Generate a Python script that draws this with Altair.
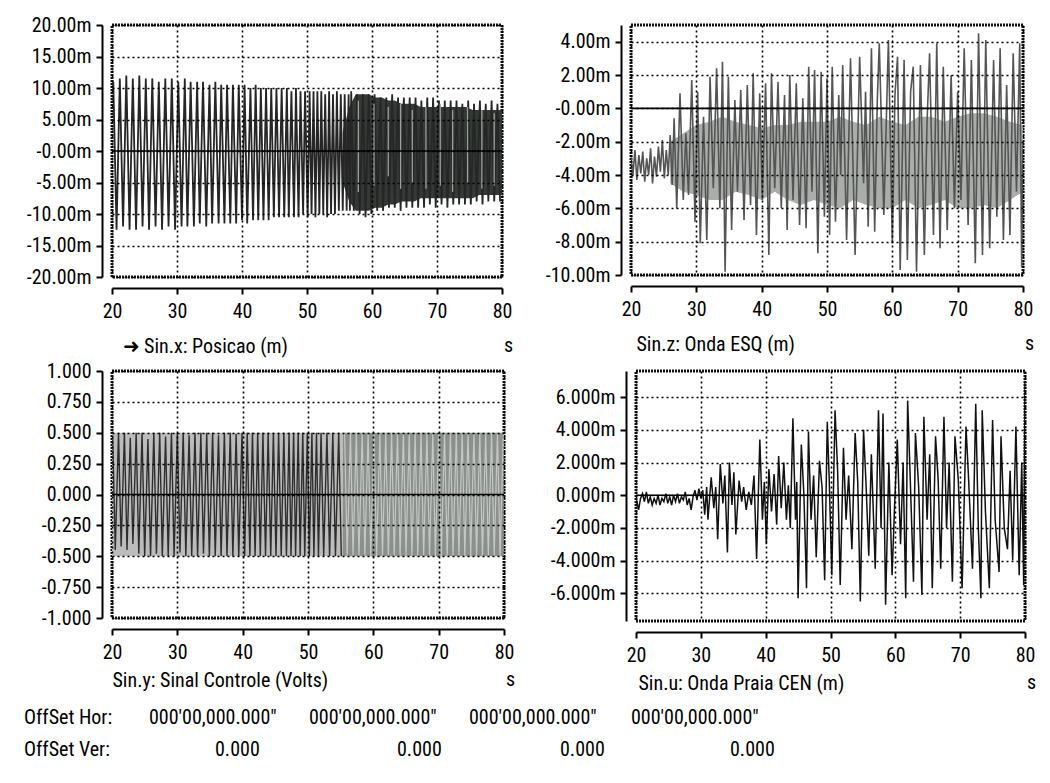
import altair as alt
import pandas as pd

FONT = "Roboto Condensed, Roboto, sans-serif"
FS = 20

# ---------------- data ----------------
# Sin.x : Posicao (m)  -- (time s, value mm) alternating extremes
sinx = [
    (20.2, 11.0), (20.7, -12.5), (21.2, 11.5), (21.7, -12.0), (22.2, 12.0), (22.7, -12.5), (23.2, 11.5), (23.7, -12.5), (24.2, 12.0), (24.7, -12.0),
    (25.2, 11.5), (25.7, -12.5), (26.2, 11.5), (26.7, -12.0), (27.2, 11.0), (27.7, -12.5), (28.2, 11.5), (28.7, -12.0), (29.2, 11.5), (29.7, -12.5),
    (30.2, 11.0), (30.7, -12.0), (31.2, 11.5), (31.6, -12.0), (32.1, 11.0), (32.6, -12.0), (33.1, 11.0), (33.5, -11.5), (34.0, 11.0), (34.5, -12.0),
    (35.0, 10.5), (35.4, -11.5), (35.9, 11.0), (36.4, -11.5), (36.8, 10.5), (37.3, -11.5), (37.7, 10.5), (38.2, -11.5), (38.6, 10.5), (39.1, -11.5),
    (39.5, 10.5), (40.0, -11.0), (40.4, 10.5), (40.8, -11.5), (41.3, 10.0), (41.7, -11.0), (42.1, 10.5), (42.5, -11.0), (42.9, 10.0), (43.3, -11.0),
    (43.7, 10.0), (44.1, -11.0), (44.5, 10.0), (44.9, -10.5), (45.3, 10.0), (45.7, -10.5), (46.1, 10.0), (46.5, -10.5), (46.9, 10.0), (47.2, -10.5),
    (47.6, 9.5), (48.0, -10.5), (48.3, 10.0), (48.7, -10.5), (49.0, 9.5), (49.4, -10.0), (49.7, 9.5), (50.1, -10.5), (50.4, 9.5), (50.7, -10.0),
    (51.0, 9.5), (51.3, -10.5), (51.6, 9.5), (51.9, -10.0), (52.2, 9.5), (52.5, -10.0), (52.8, 9.0), (53.1, -10.5), (53.4, 9.5), (53.7, -10.0),
    (54.0, 9.0), (54.3, -10.0), (54.6, 9.5), (54.9, -9.5), (55.2, 9.0), (55.5, -9.5), (55.8, 9.0), (56.1, -9.5), (56.4, 9.0), (56.6, -9.5),
    (56.8, 9.5), (57.2, -9.5), (57.7, 9.0), (58.1, -10.0), (58.6, 9.0), (59.0, -10.5), (59.5, 9.0), (59.9, -10.0), (60.4, 9.0), (60.8, -9.5),
    (61.3, 8.5), (61.7, -9.5), (62.2, 8.5), (62.6, -9.0), (63.1, 9.0), (63.5, -9.0), (64.0, 8.5), (64.4, -9.5), (64.9, 8.5), (65.3, -9.0),
    (65.8, 8.5), (66.2, -9.0), (66.7, 8.5), (67.1, -9.0), (67.6, 8.0), (68.0, -9.0), (68.5, 8.5), (68.9, -8.5), (69.4, 8.5), (69.8, -9.0),
    (70.3, 8.0), (70.7, -8.5), (71.2, 8.0), (71.6, -9.0), (72.1, 8.0), (72.5, -8.5), (73.0, 8.0), (73.4, -8.5), (73.9, 7.5), (74.3, -8.5),
    (74.8, 8.0), (75.2, -8.5), (75.7, 7.5), (76.1, -8.0), (76.6, 8.0), (77.0, -8.5), (77.5, 7.5), (77.9, -8.0), (78.4, 8.0), (78.8, -8.0),
    (79.3, 7.5), (79.7, -8.0),
]
# light streaks seen inside the dark block of Sin.x: (time, top, bottom)
sinx_streaks = [
    (57.9, 8.0, -6.5), (60.3, 7.5, -5.5), (62.5, 7.0, -4.0), (64.4, 7.5, -6.0), (66.2, 6.5, -5.0),
    (68.3, 7.0, -6.0), (70.5, 7.5, -5.5), (72.4, 6.5, -6.5), (74.7, 7.0, -5.0), (76.9, 6.5, -6.0),
    (78.8, 6.0, -5.5),
]
# dense dark block of Sin.x
sinx_band_t = [55.5, 56.5, 57.5, 58.5, 59.5, 60.5, 61.5, 62.5, 63.5, 64.5, 65.5, 66.5, 67.5, 68.5, 69.5, 70.5, 71.5, 72.5, 73.5, 74.5, 75.5, 76.5, 77.5, 78.5, 79.5, 80.0]
sinx_band_hi = [3.0, 7.0, 9.0, 9.0, 9.0, 8.5, 8.5, 8.0, 8.0, 7.5, 7.5, 7.5, 7.0, 7.0, 7.0, 7.0, 7.0, 7.0, 7.0, 7.0, 6.5, 6.5, 6.5, 6.5, 6.5, 6.5]
sinx_band_lo = [-5.0, -8.0, -9.5, -9.5, -9.5, -9.0, -9.0, -8.5, -8.5, -8.0, -8.0, -8.0, -7.5, -7.5, -7.5, -7.5, -7.5, -7.5, -7.5, -7.5, -7.5, -7.0, -7.0, -7.0, -7.0, -7.0]

# Sin.z : Onda ESQ (m)
sinz = [
    (20.0, -3.0), (20.3, -4.0), (20.6, -2.5), (20.9, -4.3), (21.2, -2.8), (21.5, -3.9), (21.8, -2.6), (22.1, -4.4), (22.4, -3.0), (22.7, -4.0),
    (23.0, -2.4), (23.3, -4.5), (23.6, -2.9), (23.9, -4.1), (24.2, -2.3), (24.5, -3.8), (24.8, -1.9), (25.1, -4.2), (25.4, -2.5), (25.7, -4.0),
    (26.0, -1.6), (26.3, -4.6), (26.6, -0.6), (27.0, -6.0), (27.5, 0.9), (28.0, -5.5), (28.4, -1.5), (28.8, -5.2), (29.3, 1.7), (29.8, -6.8),
    (30.2, 1.0), (30.6, -8.1), (31.1, -0.5), (31.6, -7.9), (32.1, 1.9), (32.6, -4.8), (33.1, 2.4), (33.6, -6.0), (34.0, 2.8), (34.4, -9.8),
    (34.9, 1.9), (35.4, -7.3), (35.9, 0.5), (36.3, -5.0), (36.8, 1.1), (37.3, -6.7), (37.8, 1.4), (38.3, -5.8), (38.7, 2.1), (39.2, -7.6),
    (39.7, 0.9), (40.1, -5.5), (40.6, 1.5), (41.1, -8.8), (41.5, 2.1), (42.0, -4.8), (42.5, 1.6), (43.0, -6.0), (43.5, 0.8), (43.9, -7.3),
    (44.3, 2.0), (44.8, -5.5), (45.3, 1.5), (45.8, -7.0), (46.3, 0.6), (46.8, -7.2), (47.2, 2.5), (47.7, -5.0), (48.1, 2.3), (48.6, -8.7),
    (49.1, 2.2), (49.6, -6.5), (50.0, 1.8), (50.4, -7.6), (50.8, 2.5), (51.3, -6.8), (51.8, 0.8), (52.1, -4.0), (52.4, 2.6), (53.0, -7.9),
    (53.6, 3.0), (54.3, -8.8), (55.0, 3.1), (55.6, -4.5), (55.9, 1.0), (56.3, -7.1), (56.8, 3.6), (57.3, -7.4), (57.7, 0.5), (58.0, 3.9),
    (58.7, -6.4), (59.4, 4.1), (60.0, -8.1), (60.4, 0.8), (60.8, 3.1), (61.2, -9.7), (61.8, 2.9), (62.3, -9.1), (62.8, 1.0), (63.2, 2.5),
    (63.7, -9.8), (64.3, 2.6), (64.9, -8.8), (65.3, -1.0), (65.7, 3.3), (66.3, -7.6), (66.8, 3.9), (67.3, -8.4), (67.8, 2.5), (68.4, -7.3),
    (69.0, 2.0), (69.5, -6.0), (70.0, 1.0), (70.5, -5.5), (71.0, 3.6), (71.6, -7.0), (72.1, 2.9), (72.7, -9.3), (73.2, 4.5), (73.8, -8.8),
    (74.3, 4.1), (74.9, -8.4), (75.5, 2.9), (76.0, -6.5), (76.5, 3.6), (77.0, -7.9), (77.5, 1.4), (78.0, -7.6), (78.5, 3.3), (79.0, -5.0),
    (79.5, 3.9), (79.8, -9.5), (80.0, -2.0),
]
sinz_band_t = [26, 28, 30, 32, 34, 36, 38, 40, 42, 44, 46, 48, 50, 52, 54, 56, 58, 60, 62, 64, 66, 68, 70, 72, 74, 76, 78, 80]
sinz_band_hi = [-2.0, -1.5, -1.0, -0.8, -0.5, -0.8, -1.0, -1.2, -1.0, -1.0, -0.8, -0.8, -0.8, -0.5, -0.8, -1.0, -0.5, -0.8, -1.0, -0.5, -0.5, -0.8, -0.5, -0.3, -0.3, -0.5, -0.8, -1.0]
sinz_band_lo = [-4.5, -5.0, -5.2, -5.5, -5.5, -5.0, -5.2, -5.5, -5.0, -5.5, -5.8, -5.5, -5.8, -6.0, -5.5, -5.8, -6.0, -6.0, -5.5, -6.0, -5.8, -5.5, -6.0, -6.0, -5.8, -6.0, -5.5, -5.0]

# Sin.y : Sinal Controle (Volts)
siny_a = [
    (20.1, 0.48), (20.5, -0.45), (21.0, 0.5), (21.4, -0.42), (21.9, 0.5), (22.3, -0.45), (22.8, 0.46), (23.2, -0.4), (23.7, 0.5), (24.1, -0.48),
    (24.6, 0.5), (25.0, -0.5), (25.5, 0.45), (25.9, -0.5), (26.4, 0.5), (26.8, -0.48), (27.3, 0.5), (27.7, -0.5), (28.2, 0.47), (28.6, -0.5),
    (29.1, 0.5), (29.5, -0.5), (30.0, 0.5), (30.4, -0.47), (30.9, 0.5), (31.3, -0.5), (31.8, 0.48), (32.2, -0.5), (32.7, 0.5), (33.1, -0.5),
    (33.6, 0.5), (34.0, -0.48), (34.5, 0.5), (34.9, -0.5), (35.4, 0.5), (35.8, -0.5), (36.3, 0.48), (36.7, -0.5), (37.2, 0.5), (37.6, -0.5),
    (38.1, 0.5), (38.5, -0.5), (39.0, 0.49), (39.4, -0.5), (39.9, 0.5), (40.3, -0.5), (40.7, 0.5), (41.1, -0.5), (41.5, 0.5), (41.9, -0.5),
    (42.3, 0.5), (42.7, -0.5), (43.1, 0.5), (43.5, -0.5), (43.9, 0.5), (44.3, -0.5), (44.7, 0.5), (45.1, -0.5), (45.5, 0.5), (45.9, -0.5),
    (46.3, 0.5), (46.7, -0.5), (47.1, 0.5), (47.4, -0.5), (47.8, 0.5), (48.1, -0.5), (48.5, 0.5), (48.8, -0.5), (49.2, 0.5), (49.5, -0.5),
    (49.9, 0.5), (50.2, -0.5), (50.6, 0.5), (50.9, -0.5), (51.3, 0.5), (51.6, -0.5), (52.0, 0.5), (52.4, -0.5), (52.9, 0.5), (53.3, -0.5),
    (53.8, 0.5), (54.2, -0.5), (54.7, 0.5), (55.1, -0.5),
]
siny_b = [
    (55.6, 0.5), (56.0, -0.5), (56.5, 0.5), (56.9, -0.5), (57.4, 0.5), (57.8, -0.5), (58.3, 0.5), (58.7, -0.5), (59.2, 0.5), (59.6, -0.5),
    (60.1, 0.5), (60.5, -0.5), (61.0, 0.5), (61.4, -0.5), (61.9, 0.5), (62.3, -0.5), (62.8, 0.5), (63.2, -0.5), (63.7, 0.5), (64.1, -0.5),
    (64.6, 0.5), (65.0, -0.5), (65.5, 0.5), (65.9, -0.5), (66.4, 0.5), (66.8, -0.5), (67.3, 0.5), (67.7, -0.5), (68.2, 0.5), (68.6, -0.5),
    (69.1, 0.5), (69.5, -0.5), (70.0, 0.5), (70.4, -0.5), (70.9, 0.5), (71.3, -0.5), (71.8, 0.5), (72.2, -0.5), (72.7, 0.5), (73.1, -0.5),
    (73.6, 0.5), (74.0, -0.5), (74.5, 0.5), (74.9, -0.5), (75.4, 0.5), (75.8, -0.5), (76.3, 0.5), (76.7, -0.5), (77.2, 0.5), (77.6, -0.5),
    (78.1, 0.5), (78.5, -0.5), (79.0, 0.5), (79.4, -0.5), (79.9, 0.5),
]
siny_band_t = [20.0, 55.3, 55.3, 80.0]
siny_band_hi = [0.5, 0.5, 0.5, 0.5]
siny_band_lo = [-0.5, -0.5, -0.5, -0.5]
siny_band_part = ["light", "light", "dark", "dark"]

# Sin.u : Onda Praia CEN (m)
sinu = [
    (20.1, -0.3), (20.4, -0.9), (20.7, -0.2), (21.0, 0.1), (21.3, -0.4), (21.6, 0.2), (21.9, -0.5), (22.2, -0.1), (22.5, -0.6), (22.8, -0.2),
    (23.1, -0.5), (23.4, 0.0), (23.7, -0.6), (24.0, -0.2), (24.3, -0.4), (24.6, 0.1), (24.9, -0.5), (25.2, -0.1), (25.5, -0.6), (25.8, 0.0),
    (26.1, -0.4), (26.4, 0.1), (26.7, -0.5), (27.0, -0.1), (27.3, -0.3), (27.6, 0.2), (27.9, -0.6), (28.2, -0.2), (28.5, -0.9), (28.8, -0.1),
    (29.1, 0.3), (29.4, -0.3), (29.7, 0.4), (30.0, -0.2), (30.3, 0.3), (30.6, -1.2), (30.9, 0.5), (31.1, -1.5), (31.6, 1.1), (32.0, -0.8),
    (32.3, 0.5), (32.6, -2.7), (33.0, 1.9), (33.4, -0.5), (33.7, 1.2), (34.1, -3.5), (34.4, 2.0), (34.8, -0.6), (35.1, 1.4), (35.4, -2.4),
    (35.9, 0.9), (36.3, -0.4), (36.6, 0.5), (37.0, -0.9), (37.4, 0.2), (37.8, -0.6), (38.2, 1.2), (38.6, -3.9), (39.1, 3.4), (39.5, -1.5),
    (39.8, 0.8), (40.1, -3.0), (40.5, 1.6), (40.9, -1.0), (41.3, 1.3), (41.7, -1.8), (42.0, 2.4), (42.4, -0.8), (42.8, 2.0), (43.2, -1.5),
    (43.5, 0.6), (43.8, -2.0), (44.2, 4.7), (44.6, -1.5), (44.8, 0.8), (45.0, -6.3), (45.5, 3.1), (45.9, 0.0), (46.3, -5.7), (46.6, 3.9),
    (47.0, -1.5), (47.4, 1.2), (47.8, -3.8), (48.3, 2.1), (48.7, 0.5), (49.1, -5.2), (49.5, 4.5), (49.8, 1.0), (50.2, -4.9), (50.7, 5.2),
    (51.1, 1.5), (51.5, -5.5), (52.0, 2.9), (52.4, -1.5), (52.8, 1.2), (53.3, -3.3), (53.8, 3.8), (54.2, 0.8), (54.6, -6.5), (55.1, 4.0),
    (55.5, 0.5), (55.9, -3.7), (56.3, 2.5), (56.9, -4.5), (57.4, 5.2), (57.8, -2.0), (58.1, 5.0), (58.5, -6.7), (59.0, 2.0), (59.5, -4.9),
    (59.9, -0.5), (60.3, 3.4), (60.8, -3.0), (61.2, 2.0), (61.6, -6.3), (61.9, 5.8), (62.3, 1.0), (62.8, -5.3), (63.1, 3.8), (63.6, 0.5),
    (64.1, -6.1), (64.4, 4.8), (64.9, -1.5), (65.3, 2.5), (65.7, -5.7), (66.2, 3.6), (66.6, 1.0), (67.0, -4.5), (67.5, 4.8), (67.9, -2.0),
    (68.3, 2.0), (68.8, -5.3), (69.2, 3.6), (69.7, 1.0), (70.3, -5.7), (70.9, 4.2), (71.3, 1.0), (71.9, -4.5), (72.4, 5.6), (72.8, -2.0),
    (73.2, -6.3), (73.4, 5.2), (73.9, -1.0), (74.5, -5.7), (75.0, 4.6), (75.4, -1.5), (76.0, -4.7), (76.3, 3.6), (76.8, -2.0), (77.3, -3.3),
    (77.7, 1.5), (78.1, -4.0), (78.6, 4.2), (79.1, -4.9), (79.5, 2.0), (79.8, -5.5), (80.0, 7.0),
]

x_ticks = [20, 30, 40, 50, 60, 70, 80]
sinx_ticks = [-20, -15, -10, -5, 0, 5, 10, 15, 20]
sinz_ticks = [-10, -8, -6, -4, -2, 0, 2, 4]
siny_ticks = [-1.0, -0.75, -0.5, -0.25, 0.0, 0.25, 0.5, 0.75, 1.0]
sinu_ticks = [-6, -4, -2, 0, 2, 4, 6]

titles = ["\u279c Sin.x: Posicao (m)", "Sin.z: Onda ESQ (m)", "Sin.y: Sinal Controle (Volts)", "Sin.u: Onda Praia CEN (m)"]
off_hor = ["000'00,000.000\"", "000'00,000.000\"", "000'00,000.000\"", "000'00,000.000\""]
off_ver = ["0.000", "0.000", "0.000", "0.000"]


# ---------------- helpers ----------------
def line_df(pairs):
    return pd.DataFrame({"t": [p[0] for p in pairs], "v": [p[1] for p in pairs]})


def band_df(ts, hi, lo):
    return pd.DataFrame({"t": ts, "hi": hi, "lo": lo})


def panel(lines, bands, ydom, yticks, label_expr, title, title_dx, title_dy, W, H, rules=()):
    sx = alt.Scale(domain=[20, 80], nice=False, zero=False)
    sy = alt.Scale(domain=ydom, nice=False, zero=False)
    common = dict(
        grid=True, gridDash=[2, 3], gridColor="black", gridWidth=1.6,
        domainColor="black", domainWidth=2, tickColor="black", tickWidth=2, tickSize=6,
        labelFont=FONT, labelFontSize=FS, labelColor="black", labelOverlap=False,
        zindex=1,
    )
    ax_x = alt.Axis(values=x_ticks, offset=11, labelPadding=7, labelFlush=False,
                    title=title, titleFont=FONT, titleFontSize=FS, titleFontWeight="normal",
                    titleColor="black", titleAnchor="start", titleAlign="left",
                    titleX=title_dx, titleY=title_dy, titleBaseline="middle", **common)
    ax_y = alt.Axis(values=yticks, offset=10, labelPadding=5, labelExpr=label_expr,
                    title=None, **common)
    layers = []
    for df, color in bands:
        layers.append(alt.Chart(df).mark_area(color=color, clip=True).encode(
            x=alt.X("t:Q", scale=sx, axis=ax_x),
            y=alt.Y("lo:Q", scale=sy, axis=ax_y),
            y2="hi:Q"))
    for df, color, w in lines:
        layers.append(alt.Chart(df).mark_line(color=color, strokeWidth=w, clip=True).encode(
            x=alt.X("t:Q", scale=sx, axis=ax_x),
            y=alt.Y("v:Q", scale=sy, axis=ax_y)))
    for df, color, w in rules:
        layers.append(alt.Chart(df).mark_rule(color=color, strokeWidth=w, clip=True).encode(
            x=alt.X("t:Q", scale=sx, axis=ax_x),
            y=alt.Y("lo:Q", scale=sy, axis=ax_y),
            y2="hi:Q"))
    zero = alt.Chart(pd.DataFrame({"v": [0.0]})).mark_rule(color="black", strokeWidth=1.6).encode(
        y=alt.Y("v:Q", scale=sy, axis=ax_y))
    s_txt = alt.Chart(pd.DataFrame({"u": ["s"]})).mark_text(
        font=FONT, fontSize=FS, align="left", baseline="middle", color="black").encode(
        text="u:N", x=alt.value(W + 2), y=alt.value(H + 11 + title_dy))
    layers += [zero, s_txt]
    return alt.layer(*layers).properties(width=W, height=H)


def lab(fmt, suffix, zero_txt):
    return ("datum.value == 0 ? '" + zero_txt + "' : replace(format(datum.value, '" + fmt +
            "'), '\u2212', '-') + '" + suffix + "'")


streak_df = pd.DataFrame({"t": [s[0] for s in sinx_streaks],
                          "hi": [s[1] for s in sinx_streaks],
                          "lo": [s[2] for s in sinx_streaks]})

p1 = panel([(line_df(sinx), "#262626", 1.8)],
           [(band_df(sinx_band_t, sinx_band_hi, sinx_band_lo), "#343936")],
           [-20, 20], sinx_ticks, lab(".2f", "m", "-0.00m"), titles[0], 10, 58, 390, 252,
           rules=[(streak_df, "#9aa09c", 1.3)])
p2 = panel([(line_df(sinz), "#555555", 1.6)],
           [(band_df(sinz_band_t, sinz_band_hi, sinz_band_lo), "#a9aeaa")],
           [-10, 5], sinz_ticks, lab(".2f", "m", "-0.00m"), titles[1], 5, 58, 392, 250)

siny_band = pd.DataFrame({"t": siny_band_t, "hi": siny_band_hi, "lo": siny_band_lo, "part": siny_band_part})
p3 = panel([(line_df(siny_a), "#2e2e2e", 1.4), (line_df(siny_b), "#c4c7c4", 1.2)],
           [(siny_band[siny_band.part == "light"], "#bcbcbc"), (siny_band[siny_band.part == "dark"], "#8b908c")],
           [-1, 1], siny_ticks, lab(".3f", "", "0.000"), titles[2], 0, 51, 392, 247)
p4 = panel([(line_df(sinu), "#111111", 1.5)], [],
           [-7.7, 7.6], sinu_ticks, lab(".3f", "m", "0.000m"), titles[3], 2, 51, 389, 250)

# footer text rows (x relative to the left plot edge)
foot = []
row1_x = [37, 197, 357, 519]
row2_x = [103, 285, 448, 618]
items = [("OffSet Hor:", -88, 20), ("OffSet Ver:", -88, 52)]
items += [(off_hor[i], row1_x[i], 20) for i in range(4)]
items += [(off_ver[i], row2_x[i], 52) for i in range(4)]
for txt, x, y in items:
    foot.append(alt.Chart(pd.DataFrame({"u": [txt]})).mark_text(
        font=FONT, fontSize=FS, align="left", baseline="middle", color="black").encode(
        text="u:N", x=alt.value(x), y=alt.value(y)))
footer = alt.layer(*foot).properties(width=700, height=62,
                                     view=alt.ViewBackground(stroke="transparent"))

row1 = alt.hconcat(p1, p2, spacing=28)
row2 = alt.hconcat(p3, p4, spacing=31)
chart = alt.vconcat(row1, row2, footer, spacing=1).properties(
    padding={"left": 22, "top": 13, "right": 5, "bottom": 3},
    background="white",
).configure_view(stroke="#111111", strokeWidth=3, strokeDash=[2, 1])

chart.save("out.html", embed_options={"renderer": "svg", "actions": False})
